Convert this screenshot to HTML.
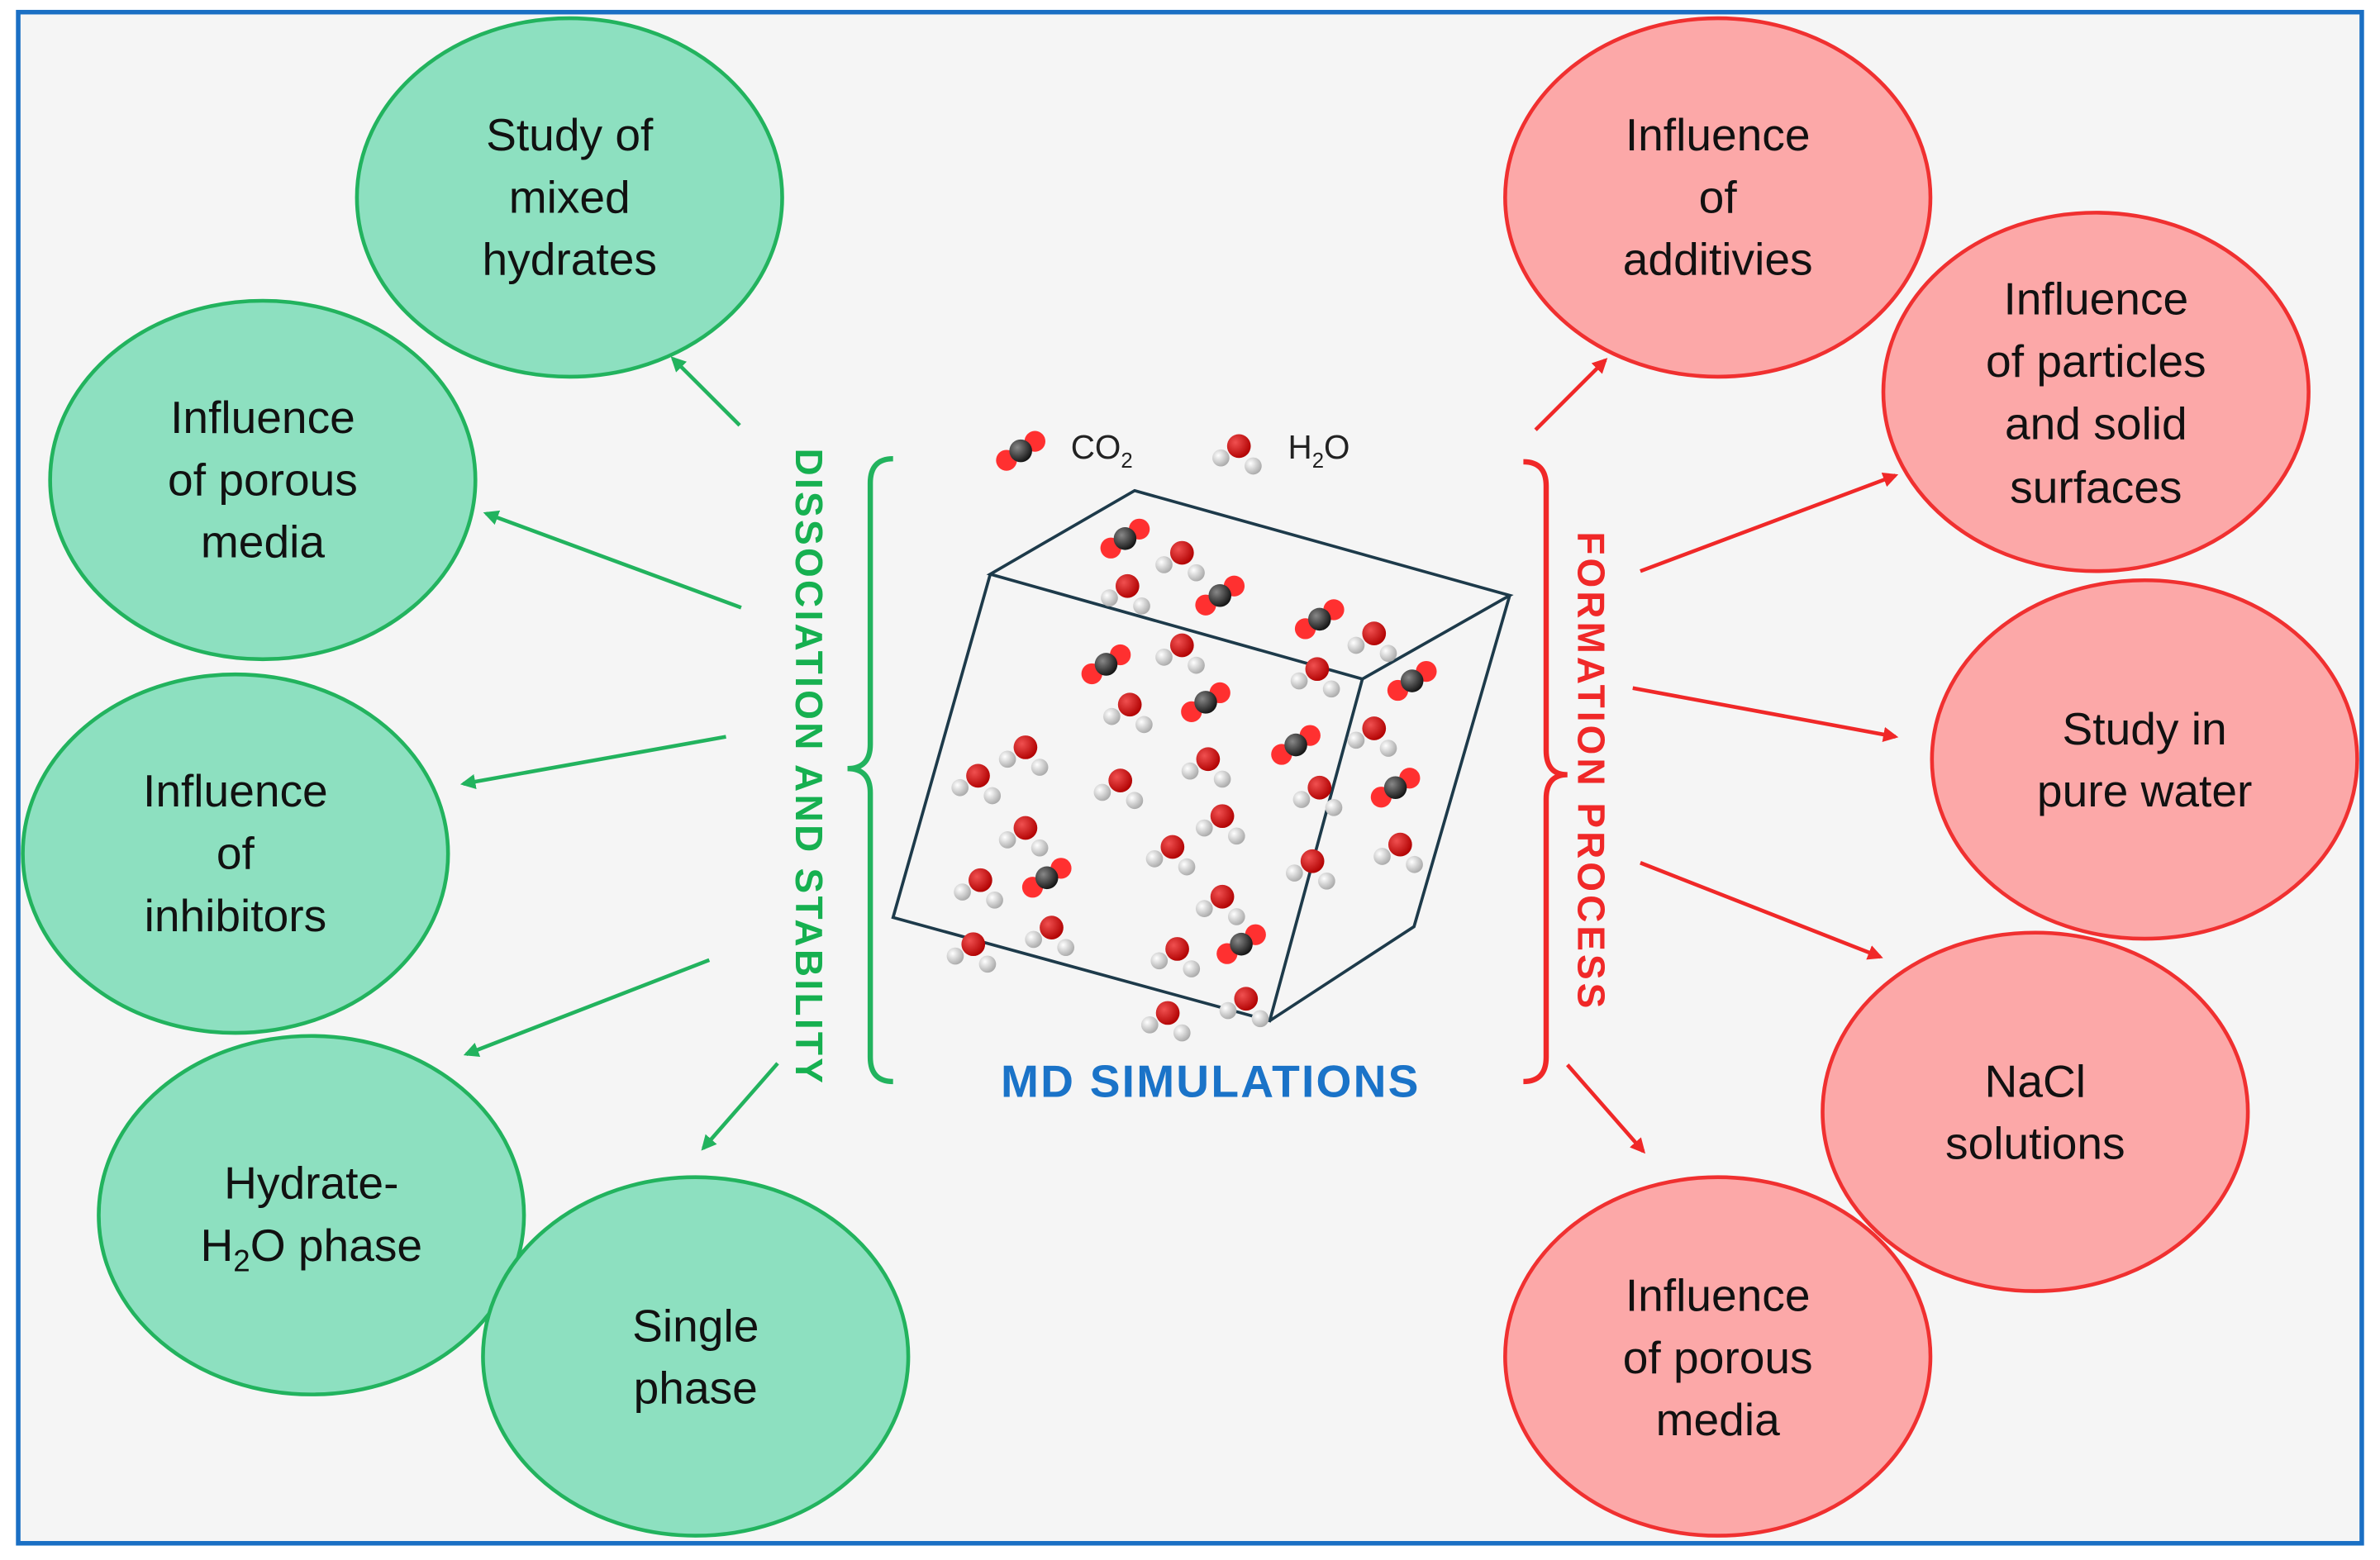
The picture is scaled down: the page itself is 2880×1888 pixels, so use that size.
<!DOCTYPE html>
<html><head><meta charset="utf-8"><style>
html,body{margin:0;padding:0;background:#fff;}
svg{display:block;}
text{font-family:"Liberation Sans",sans-serif;}
</style></head><body>
<svg width="2880" height="1888" viewBox="0 0 1567 1027" preserveAspectRatio="none" xmlns="http://www.w3.org/2000/svg">
<defs>
<radialGradient id="gO" cx="0.35" cy="0.35" r="0.7"><stop offset="0" stop-color="#f05050"/><stop offset="1" stop-color="#b00000"/></radialGradient>
<radialGradient id="gH" cx="0.35" cy="0.35" r="0.7"><stop offset="0" stop-color="#ffffff"/><stop offset="1" stop-color="#a8a8a8"/></radialGradient>
<radialGradient id="gC" cx="0.35" cy="0.35" r="0.7"><stop offset="0" stop-color="#888"/><stop offset="1" stop-color="#111"/></radialGradient>
<g id="w"><circle cx="-38" cy="25" r="18" fill="url(#gH)"/><circle cx="30" cy="42" r="18" fill="url(#gH)"/><circle cx="0" cy="0" r="25" fill="url(#gO)"/></g>
<g id="c"><circle cx="30" cy="-20" r="22" fill="#ff3030"/><circle cx="-30" cy="20" r="22" fill="#ff3030"/><circle cx="0" cy="0" r="24" fill="url(#gC)"/></g>
<marker id="ag" markerWidth="10" markerHeight="10" refX="8" refY="5" orient="auto" markerUnits="userSpaceOnUse"><path d="M0,0 L10,5 L0,10 z" fill="#22b35e"/></marker>
<marker id="ar" markerWidth="10" markerHeight="10" refX="8" refY="5" orient="auto" markerUnits="userSpaceOnUse"><path d="M0,0 L10,5 L0,10 z" fill="#f02828"/></marker>
</defs>
<rect x="12" y="8" width="1543" height="1008" fill="#f5f5f5" stroke="#1a6fc4" stroke-width="3"/>

<g fill="#8de0c0" stroke="#22b35e" stroke-width="2.5">
<ellipse cx="375" cy="130" rx="140" ry="118"/>
<ellipse cx="173" cy="316" rx="140" ry="118"/>
<ellipse cx="155" cy="562" rx="140" ry="118"/>
<ellipse cx="205" cy="800" rx="140" ry="118"/>
<ellipse cx="458" cy="893" rx="140" ry="118"/>
</g>
<g fill="#fca8a8" stroke="#f03030" stroke-width="2.5">
<ellipse cx="1131" cy="130" rx="140" ry="118"/>
<ellipse cx="1380" cy="258" rx="140" ry="118"/>
<ellipse cx="1412" cy="500" rx="140" ry="118"/>
<ellipse cx="1340" cy="732" rx="140" ry="118"/>
<ellipse cx="1131" cy="893" rx="140" ry="118"/>
</g>
<g font-size="30" fill="#111" text-anchor="middle">
<text x="375" y="99">Study of</text><text x="375" y="140">mixed</text><text x="375" y="181">hydrates</text>
<text x="173" y="285">Influence</text><text x="173" y="326">of porous</text><text x="173" y="367">media</text>
<text x="155" y="531">Influence</text><text x="155" y="572">of</text><text x="155" y="613">inhibitors</text>
<text x="205" y="789">Hydrate-</text><text x="205" y="830">H<tspan font-size="20" dy="7">2</tspan><tspan dy="-7">O phase</tspan></text>
<text x="458" y="883">Single</text><text x="458" y="924">phase</text>
<text x="1131" y="99">Influence</text><text x="1131" y="140">of</text><text x="1131" y="181">additivies</text>
<text x="1380" y="207">Influence</text><text x="1380" y="248">of particles</text><text x="1380" y="289">and solid</text><text x="1380" y="331">surfaces</text>
<text x="1412" y="490">Study in</text><text x="1412" y="531">pure water</text>
<text x="1340" y="722">NaCl</text><text x="1340" y="763">solutions</text>
<text x="1131" y="863">Influence</text><text x="1131" y="904">of porous</text><text x="1131" y="945">media</text>
</g>

<g stroke="#22b35e" stroke-width="2.5" marker-end="url(#ag)">
<line x1="487" y1="280" x2="443" y2="236"/>
<line x1="488" y1="400" x2="320" y2="338"/>
<line x1="478" y1="485" x2="305" y2="516"/>
<line x1="467" y1="632" x2="307" y2="694"/>
<line x1="512" y1="700" x2="463" y2="756"/>
</g>
<g stroke="#f02828" stroke-width="2.5" marker-end="url(#ar)">
<line x1="1011" y1="283" x2="1057" y2="237"/>
<line x1="1080" y1="376" x2="1248" y2="313"/>
<line x1="1075" y1="453" x2="1248" y2="485"/>
<line x1="1080" y1="568" x2="1238" y2="630"/>
<line x1="1032" y1="701" x2="1082" y2="758"/>
</g>

<path d="M588,302 Q573,302 573,318 L573,490 Q573,506 558,506 Q573,506 573,522 L573,696 Q573,712 588,712" fill="none" stroke="#22b35e" stroke-width="3.5"/>
<path d="M1003,304 Q1018,304 1018,320 L1018,494 Q1018,510 1032,510 Q1018,510 1018,526 L1018,696 Q1018,712 1003,712" fill="none" stroke="#f02828" stroke-width="3.5"/>

<text transform="translate(524,505) rotate(90)" text-anchor="middle" font-size="25" font-weight="bold" letter-spacing="1.8" fill="#16b050">DISSOCIATION AND STABILITY</text>
<text transform="translate(1039,508) rotate(90)" text-anchor="middle" font-size="25" font-weight="bold" letter-spacing="2.2" fill="#f02828">FORMATION PROCESS</text>
<text x="797" y="722" text-anchor="middle" font-size="30" font-weight="bold" letter-spacing="1.2" fill="#1a73c8">MD SIMULATIONS</text>

<g font-size="22" fill="#222">
<text x="705" y="302">CO<tspan font-size="14" dy="6">2</tspan></text>
<text x="848" y="302">H<tspan font-size="14" dy="6">2</tspan><tspan dy="-6">O</tspan></text>
</g>

<g fill="none" stroke="#1d3a4a" stroke-width="2">
<polygon points="747,323 994,392 897,447 652,378"/>
<polyline points="652,378 588,604 836,672 897,447"/>
<polyline points="836,672 931,610 994,392"/>
</g>

<g transform="translate(544,264) scale(0.3123)">
<use href="#c" x="410" y="105"/><use href="#w" x="870" y="95"/>
<use href="#w" x="750" y="320"/><use href="#w" x="635" y="390"/><use href="#w" x="750" y="515"/><use href="#w" x="1155" y="490"/><use href="#w" x="1035" y="565"/><use href="#w" x="640" y="640"/><use href="#w" x="1155" y="690"/><use href="#w" x="420" y="730"/><use href="#w" x="320" y="790"/><use href="#w" x="620" y="800"/><use href="#w" x="805" y="755"/><use href="#w" x="1040" y="815"/><use href="#w" x="835" y="875"/><use href="#w" x="420" y="900"/><use href="#w" x="730" y="940"/><use href="#w" x="1025" y="970"/><use href="#w" x="1210" y="935"/><use href="#w" x="325" y="1010"/><use href="#w" x="475" y="1110"/><use href="#w" x="835" y="1045"/><use href="#w" x="310" y="1145"/><use href="#w" x="740" y="1155"/><use href="#w" x="720" y="1290"/><use href="#w" x="885" y="1260"/>
<use href="#c" x="630" y="290"/><use href="#c" x="830" y="410"/><use href="#c" x="1040" y="460"/><use href="#c" x="590" y="555"/><use href="#c" x="800" y="635"/><use href="#c" x="1235" y="590"/><use href="#c" x="990" y="725"/><use href="#c" x="1200" y="815"/><use href="#c" x="465" y="1005"/><use href="#c" x="875" y="1145"/>
</g>
</svg>
</body></html>
